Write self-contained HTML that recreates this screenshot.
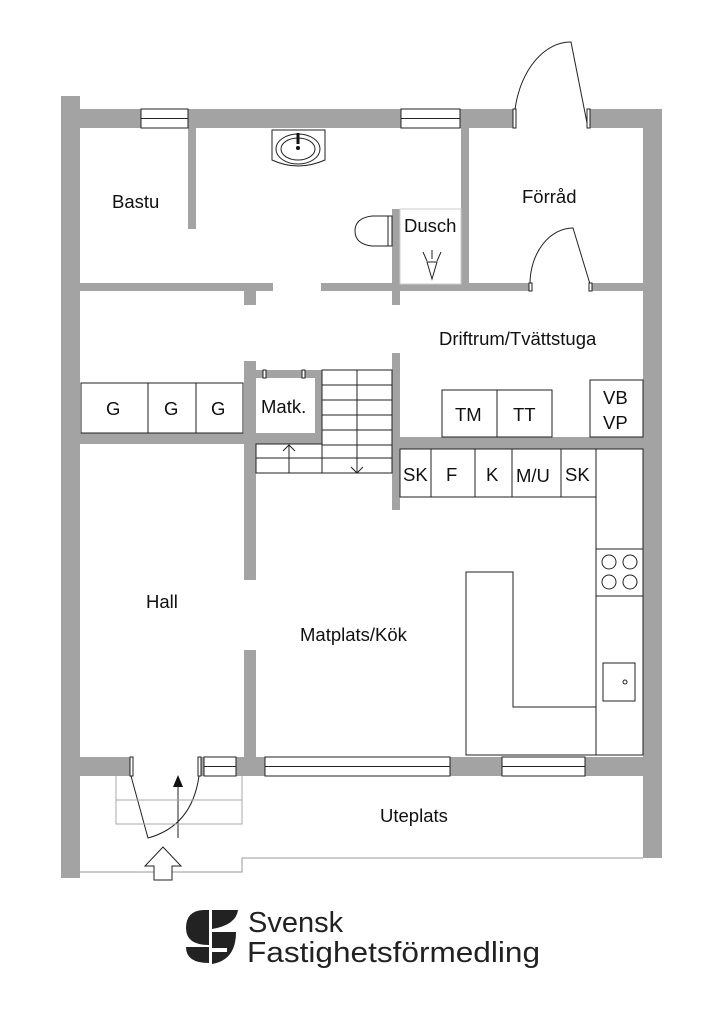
<!DOCTYPE html>
<html><head><meta charset="utf-8"><style>
html,body{margin:0;padding:0;background:#fff;width:724px;height:1024px;overflow:hidden}
svg{display:block}
text{font-family:"Liberation Sans",Arial,sans-serif;fill:#111}
</style></head><body>
<svg width="724" height="1024" viewBox="0 0 724 1024">
<g fill="#a3a3a3">
<rect x="61" y="96" width="19" height="782"/>
<rect x="61" y="109" width="454" height="19"/>
<rect x="588" y="109" width="74" height="19"/>
<rect x="643" y="109" width="19" height="749"/>
<rect x="61" y="757" width="70" height="19"/>
<rect x="199" y="757" width="444" height="19"/>
<rect x="188" y="128" width="8" height="101"/>
<rect x="461" y="128" width="8" height="162"/>
<rect x="80" y="283" width="193" height="8"/>
<rect x="244" y="283" width="12" height="22"/>
<rect x="321" y="283" width="209" height="8"/>
<rect x="590" y="283" width="53" height="8"/>
<rect x="392" y="209" width="8" height="96"/>
<rect x="80" y="433" width="242" height="11"/>
<rect x="244" y="361" width="12" height="219"/>
<rect x="244" y="650" width="12" height="107"/>
<rect x="256" y="370" width="66" height="8"/>
<rect x="315" y="370" width="7" height="74"/>
<rect x="392" y="353" width="8" height="157"/>
<rect x="400" y="437" width="243" height="12"/>
</g>
<g fill="#fff" stroke="#222" stroke-width="1">
<rect x="141" y="109" width="47" height="19"/><line x1="141" y1="118.5" x2="188" y2="118.5"/>
<rect x="401" y="109" width="59" height="19"/><line x1="401" y1="118.5" x2="460" y2="118.5"/>
<rect x="204" y="757" width="32" height="19"/><line x1="204" y1="766.5" x2="236" y2="766.5"/>
<rect x="265" y="757" width="185" height="19"/><line x1="265" y1="766.5" x2="450" y2="766.5"/>
<rect x="502" y="757" width="83" height="19"/><line x1="502" y1="766.5" x2="585" y2="766.5"/>
<rect x="263" y="370" width="3" height="8"/><rect x="302" y="370" width="3" height="8"/>
<rect x="81" y="383" width="67" height="50"/><rect x="148" y="383" width="48" height="50"/><rect x="196" y="383" width="47" height="50"/>
<rect x="442" y="390" width="55" height="47"/><rect x="497" y="390" width="55" height="47"/>
<rect x="590" y="380" width="53" height="57"/>
<rect x="400" y="449" width="196" height="48"/>
<rect x="596" y="449" width="47" height="306"/>
<rect x="596" y="549" width="47" height="47"/>
<rect x="603" y="663" width="32" height="38"/>
<path d="M466 572 H513 V707 H596 V755 H466 Z"/>
<path d="M272 130 H325 V160 Q298 172 272 160 Z"/>
<path d="M389 216 H372 Q355 218 355 231 Q355 244 372 246 H389 Z"/>
<rect x="388" y="216" width="4" height="30"/>
<rect x="400" y="209" width="61" height="75" stroke="#ccc"/>
</g>
<g fill="none" stroke="#222" stroke-width="1">
<line x1="431" y1="449" x2="431" y2="497"/><line x1="475" y1="449" x2="475" y2="497"/>
<line x1="512" y1="449" x2="512" y2="497"/><line x1="561" y1="449" x2="561" y2="497"/>
<circle cx="609" cy="562" r="7"/><circle cx="630" cy="562" r="7"/><circle cx="609" cy="582" r="7"/><circle cx="630" cy="582" r="7"/>
<circle cx="625" cy="682" r="2"/>
<ellipse cx="298" cy="149" rx="22" ry="15"/><ellipse cx="298" cy="149" rx="17" ry="11"/>
<path d="M427 262 L432 279 L437 262 Z M423 252 L427 261 M432 250 L432 259 M441 252 L437 261"/>
<rect x="322" y="370" width="70" height="103"/>
<line x1="357" y1="370" x2="357" y2="473"/>
<path d="M322 385H392M322 400H392M322 415H392M322 430H392M322 445H392M322 458H392"/>
<rect x="256" y="444" width="66" height="29"/>
<line x1="256" y1="458" x2="322" y2="458"/>
<line x1="289" y1="445" x2="289" y2="473"/>
<path d="M283 451 L289 445 L295 451"/>
<path d="M351 467 L357 473 L363 467"/>
<path d="M588 128 L571 42 A 57 86 0 0 0 515 109"/>
<path d="M590 284 L573 228 A 43 56 0 0 0 530 284"/>
<path d="M131 776 L148 838 Q192 826 199 776"/>
<line x1="178" y1="838" x2="178" y2="785"/>
<path d="M80 872 H242 V858 H643" stroke="#999"/>
<path d="M116 776 V824 H242 V776 M116 800 H242" stroke="#aaa"/>
<path d="M154 880 V866 H145 L163 847 L181 866 H172 V880 Z" fill="#fff"/>
</g>
<g fill="#fff" stroke="#222" stroke-width="1">
<rect x="513" y="109" width="3" height="19"/><rect x="587" y="109" width="3" height="19"/>
<rect x="529" y="283" width="3" height="8"/><rect x="589" y="283" width="3" height="8"/>
<rect x="130" y="757" width="3" height="19"/><rect x="198" y="757" width="3" height="19"/>
</g>
<path d="M173 787 L178 775 L183 787 Z" fill="#111"/>
<rect x="296.5" y="133" width="3" height="11" fill="#111"/><circle cx="298" cy="148" r="2" fill="#111"/>
<g font-size="18.5">
<text x="112" y="208">Bastu</text>
<text x="522" y="203">Förråd</text>
<text x="404" y="232">Dusch</text>
<text x="439" y="345">Driftrum/Tvättstuga</text>
<text x="106" y="415">G</text><text x="164" y="415">G</text><text x="211" y="415">G</text>
<text x="261" y="413">Matk.</text>
<text x="455" y="421">TM</text><text x="513" y="421">TT</text>
<text x="603" y="404">VB</text><text x="603" y="429">VP</text>
<text x="403" y="481">SK</text><text x="446" y="481">F</text><text x="486" y="481">K</text>
<text x="516" y="482">M/U</text><text x="565" y="481">SK</text>
<text x="146" y="608">Hall</text>
<text x="300" y="641">Matplats/Kök</text>
<text x="380" y="822">Uteplats</text>
</g>
<g fill="#222">
<path d="M186 928 Q186 911 203 910 L209 910 L209 945 Q186 945 186 928 Z"/>
<path d="M212 910 H238 Q236 925 212 929 Z"/>
<path d="M186 947 H209 V963 Q186 963 186 947 Z"/>
<path d="M212 932 H236 Q236 960 212 964 Z"/>
<path d="M212 948 H227 V952 H212Z" fill="#fff"/>
</g>
<text x="248" y="932" font-size="29" style="fill:#222">Svensk</text>
<text x="247" y="962" font-size="29" style="fill:#222" textLength="293" lengthAdjust="spacingAndGlyphs">Fastighetsförmedling</text>
</svg>
</body></html>
